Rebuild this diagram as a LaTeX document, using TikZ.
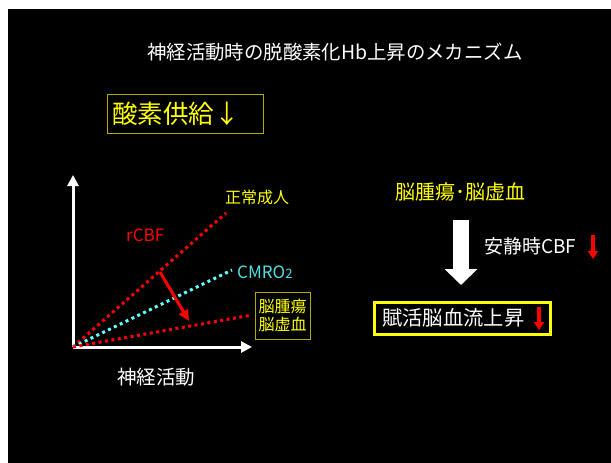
\documentclass[tikz,border=0pt]{standalone}
\usepackage{fontspec}
\setmainfont{Noto Sans CJK JP}
\usetikzlibrary{arrows.meta}
\definecolor{ylw}{RGB}{255,255,0}
\definecolor{olive2}{RGB}{178,168,0}
\definecolor{cyn}{RGB}{80,225,225}
\definecolor{cynline}{RGB}{100,255,255}
\definecolor{rd}{RGB}{255,0,0}
\newcommand{\fs}[1]{\fontsize{#1}{#1}\selectfont}
\tikzset{
  lbl/.style={inner sep=0pt, anchor=west},
  dotline/.style={line width=3pt, dash pattern=on 3pt off 3.5pt},
  axis/.style={white, line width=3pt, -{Triangle[length=11pt,width=11pt]}},
  olivebox/.style={draw=olive2, line width=1pt},
}
\begin{document}
\begin{tikzpicture}[x=1pt,y=-1pt]
\useasboundingbox (0,0) rectangle (611,463);
\fill[white] (0,0) rectangle (611,463);
\fill[black] (8,9) rectangle (611,463);

% title
\node[lbl, white] (title) at (147,52) {\fs{19.4}神経活動時の脱酸素化Hb上昇のメカニズム};

% oxygen supply box
\draw[olivebox] (107,94) rectangle (263,133);
\node[lbl, ylw] (supply) at (112,114) {\fs{25.5}酸素供給↓};

% axes
\coordinate (O) at (73,347);
\coordinate (ytop) at (73,175);
\coordinate (xend) at (252,347);
\draw[axis] (O) -- (ytop);
\draw[axis] (O) -- (xend);

% lines
\coordinate (nrm) at (226,213);
\coordinate (cmr) at (232,270);
\coordinate (tum) at (252,315);
\draw[rd, dotline] (O) -- (nrm);
\draw[cynline, dotline] (O) -- (cmr);
\draw[rd, dotline] (O) -- (tum);

% red arrow
\coordinate (ra1) at (160,272);
\coordinate (ra2) at (189,321);
\draw[rd, line width=3pt, -{Triangle[length=11pt,width=10pt]}] (ra1) -- (ra2);

% labels
\node[lbl, ylw] (normal) at (225,197) {\fs{16}正常成人};
\node[lbl, rd] (rcbf) at (126,235) {\fs{17}rCBF};
\node[lbl, cyn] (cmro) at (237,272) {\fs{17}CMRO\fs{13}2};
\draw[olivebox] (255,292) rectangle (310,339);
\node[ylw, inner sep=0pt, align=center] (tumbox) at (282.5,315.5) {\fs{16}脳腫瘍\\[2pt]\fs{16}脳虚血};
\node[lbl, white] (neuro) at (117,377) {\fs{19.5}神経活動};

% right side
\node[lbl, ylw] (tumor) at (395,192) {\fs{20}脳腫瘍･脳虚血};
\coordinate (wa1) at (461,220);
\coordinate (wa2) at (461,285);
\draw[white, line width=16pt, -{Triangle[length=16pt,width=32pt]}] (wa1) -- (wa2);
\node[lbl, white] (rest) at (484,246) {\fs{19}安静時CBF};
\coordinate (r1a) at (593,235);
\coordinate (r1b) at (593,259);
\draw[rd, line width=4.5pt, -{Triangle[length=8pt,width=10pt]}] (r1a) -- (r1b);

\draw[ylw, line width=3pt] (374,302) rectangle (550,334);
\node[lbl, white] (act) at (382,318) {\fs{20.3}賦活脳血流上昇};
\coordinate (r2a) at (539,307);
\coordinate (r2b) at (539,330);
\draw[rd, line width=4.5pt, -{Triangle[length=8pt,width=10pt]}] (r2a) -- (r2b);
\end{tikzpicture}
\end{document}
